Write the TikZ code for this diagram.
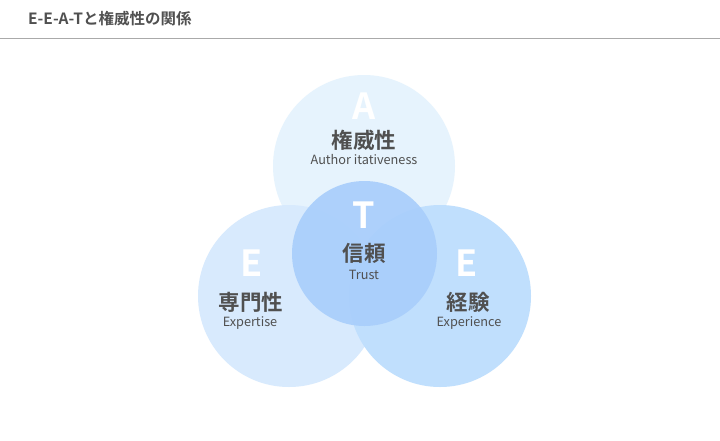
\documentclass[tikz,border=0pt]{standalone}
\usepackage{fontspec}
\setmainfont{Noto Sans CJK JP}[BoldFont={Noto Sans CJK JP Bold}]
\definecolor{titlegray}{HTML}{505050}
\definecolor{rulegray}{HTML}{AAAAAA}
\definecolor{topblue}{HTML}{E6F3FD}
\definecolor{leftblue}{HTML}{D8EAFD}
\definecolor{rightblue}{HTML}{C0DFFD}
\definecolor{midblue}{HTML}{A9CEFB}
\begin{document}
\begin{tikzpicture}[x=1pt,y=-1pt,
  ring/.style={circle, inner sep=0pt, minimum size=#1},
  letter/.style={text=white, font=\bfseries\fontsize{36}{36}\selectfont},
  jlabel/.style={text=titlegray, font=\bfseries\fontsize{21.5}{21.5}\selectfont},
  elabel/.style={text=titlegray, font=\fontsize{12.7}{12.7}\selectfont}]
  \useasboundingbox[fill=white] (0,0) rectangle (720,440);

  \node[anchor=west, inner sep=0pt, text=titlegray, font=\bfseries\fontsize{15.5}{15.5}\selectfont] (title) at (28,19) {E-E-A-Tと権威性の関係};
  \draw[rulegray, line width=1.6pt] (0,38.5) -- (720,38.5);

  \node[ring=182pt, fill=topblue] (authority) at (364,166) {};
  \node[ring=182pt, fill=leftblue] (expertise) at (289,296) {};
  \node[ring=182pt, fill=rightblue] (experience) at (440,296) {};
  \node[ring=145pt, fill=midblue, fill opacity=0.92] (trust) at (364.5,253.5) {};

  \node[letter] (A) at (364,106) {A};
  \node[jlabel] (Aj) at (364,140) {権威性};
  \node[elabel] (Ae) at (364,160) {Author itativeness};

  \node[letter] (T) at (364,215) {T};
  \node[jlabel] (Tj) at (364,253) {信頼};
  \node[elabel] (Te) at (364,275) {Trust};

  \node[letter] (E1) at (252,263) {E};
  \node[jlabel] (E1j) at (251,302) {専門性};
  \node[elabel] (E1e) at (250,323) {Expertise};

  \node[letter] (E2) at (467,263) {E};
  \node[jlabel] (E2j) at (468,302) {経験};
  \node[elabel] (E2e) at (469,323) {Experience};
\end{tikzpicture}
\end{document}
